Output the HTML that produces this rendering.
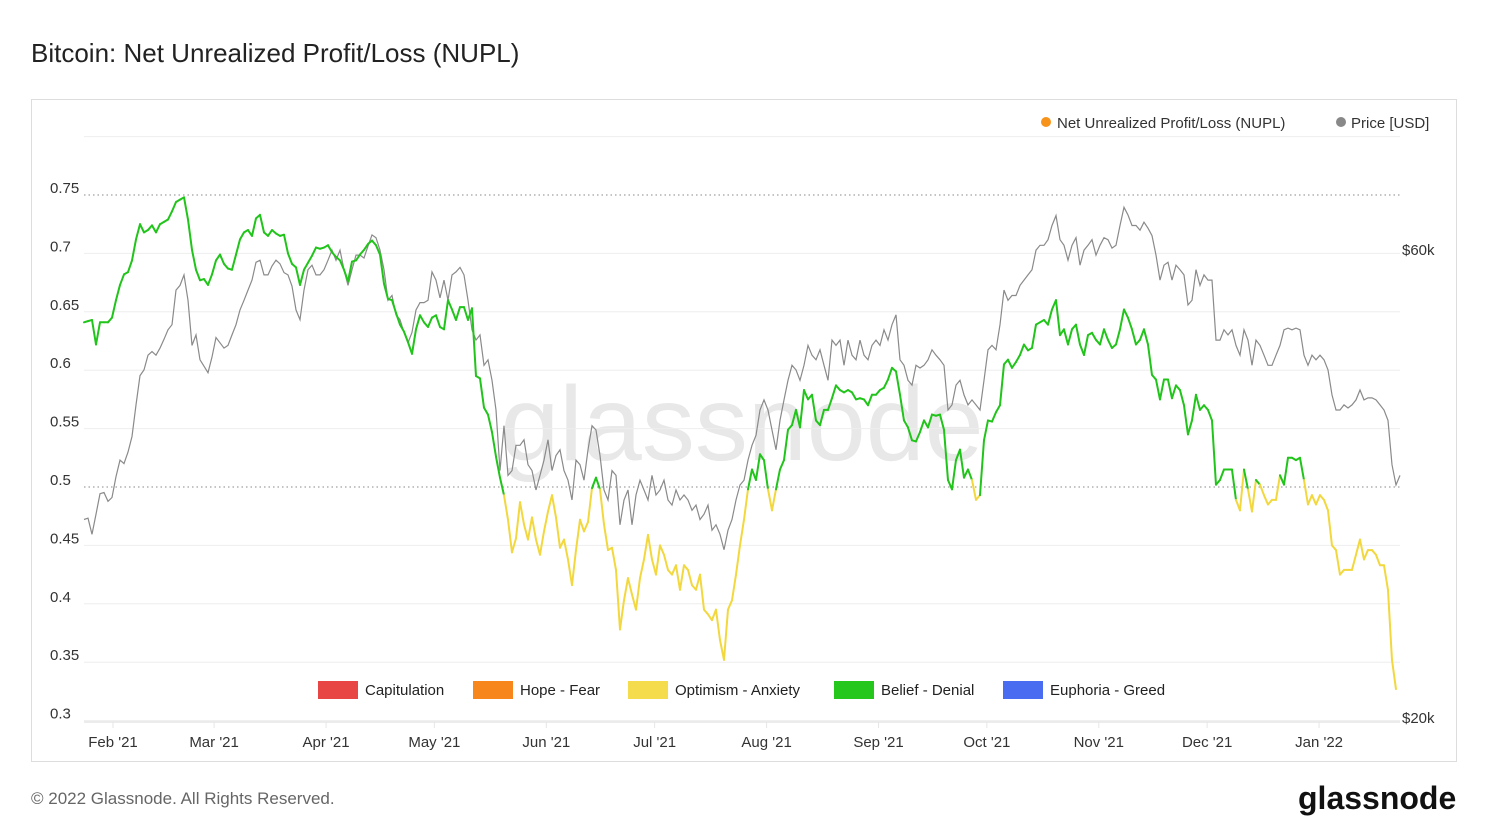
<!DOCTYPE html>
<html><head><meta charset="utf-8"><style>
html,body{margin:0;padding:0;background:#fff;}
body{width:1488px;height:837px;position:relative;overflow:hidden;font-family:"Liberation Sans",sans-serif;}
.title{position:absolute;left:31px;top:38px;font-size:26px;color:#222;}
.box{position:absolute;left:31px;top:99px;width:1424px;height:661px;border:1px solid #ddd;}
.foot{position:absolute;left:31px;top:789px;font-size:17px;color:#666;}
.logo{position:absolute;left:1298px;top:780px;font-size:32px;font-weight:bold;color:#111;}
svg{position:absolute;left:0;top:0;}
</style></head><body>
<div class="title">Bitcoin: Net Unrealized Profit/Loss (NUPL)</div>
<div class="box"></div>
<svg id="chart" width="1488" height="837"></svg>
<div class="foot">© 2022 Glassnode. All Rights Reserved.</div>
<div class="logo">glassnode</div>
<script>
const nuplValues=[.641,.642,.643,.622,.641,.641,.641,.645,.660,.673,.682,.684,.694,.712,.725,.718,.720,.724,.718,.725,.727,.729,.736,.744,.746,.748,.729,.703,.686,.677,.678,.673,.682,.694,.699,.691,.687,.686,.699,.712,.718,.720,.715,.730,.733,.718,.715,.720,.717,.715,.716,.700,.691,.688,.673,.686,.692,.698,.705,.704,.705,.707,.701,.697,.694,.686,.676,.693,.694,.699,.703,.708,.711,.707,.699,.674,.661,.660,.649,.639,.633,.624,.614,.635,.647,.641,.637,.645,.647,.637,.635,.660,.652,.643,.654,.654,.643,.653,.595,.593,.568,.562,.547,.526,.508,.493,.472,.444,.456,.487,.468,.455,.474,.455,.442,.462,.479,.493,.474,.448,.455,.438,.416,.446,.472,.462,.470,.499,.508,.498,.468,.446,.448,.429,.378,.403,.422,.408,.395,.422,.438,.459,.438,.425,.450,.442,.429,.425,.433,.412,.433,.429,.416,.412,.425,.395,.391,.386,.395,.369,.352,.395,.403,.425,.450,.472,.498,.515,.506,.528,.523,.498,.480,.498,.515,.523,.549,.553,.566,.551,.583,.575,.579,.557,.553,.566,.566,.576,.587,.583,.581,.583,.581,.575,.576,.575,.570,.579,.579,.583,.585,.592,.602,.599,.579,.557,.551,.540,.539,.547,.557,.551,.562,.561,.562,.549,.506,.498,.523,.532,.508,.515,.506,.489,.493,.540,.557,.556,.564,.570,.605,.609,.602,.607,.613,.622,.617,.619,.639,.641,.643,.639,.652,.660,.630,.635,.622,.635,.639,.622,.613,.630,.632,.626,.622,.635,.626,.619,.622,.635,.652,.645,.635,.622,.626,.635,.622,.596,.592,.575,.592,.592,.576,.587,.583,.570,.545,.557,.579,.566,.570,.566,.557,.502,.506,.515,.515,.515,.489,.480,.515,.498,.479,.506,.502,.493,.485,.489,.489,.510,.502,.525,.525,.523,.525,.506,.485,.493,.485,.493,.489,.480,.450,.446,.425,.429,.429,.429,.442,.455,.438,.446,.446,.442,.433,.433,.412,.352,.327];
const priceValuesK=[32.1,32.2,31,32.5,34.1,34.2,33.5,33.8,35.5,36.9,36.6,37.6,39,42,45,45.6,47.2,47.6,47.2,48,49,50.1,50.7,55,55.6,57,53.7,48.3,49.5,46.7,46,45.3,47,49.2,48.6,48,48.3,49.5,50.7,52.5,53.7,55,56.3,58.7,59,57,57,58.2,59,58.5,57.3,57,55.5,52.5,51.3,55,57.7,58.3,57,57,57.7,59,60.4,59,60.4,57.7,55.6,57.7,59.7,59.7,59.3,61,62.6,62.2,60.4,57.7,53.7,54.3,51.9,51.3,49.8,48.6,49.8,52.5,53.4,53.4,53.7,57.4,56.3,54,56.3,53.7,57,57.4,58,57,53.7,50.1,48.9,49.5,46.1,46.7,44.5,41.5,36,40,35.6,36,38.2,38.2,38.7,36.5,36,34.4,35.6,36.9,38.7,36,37.3,37.8,36,35.2,33.6,36.9,36.5,35.2,37.8,40,39.6,37.3,34.4,33.6,36,35.6,31.7,33.6,34.4,31.7,34,35.2,34.4,33.6,35.6,34,34.4,35.2,33.6,33.2,34.4,33.6,34,33.6,32.8,33.2,32.1,32.5,33.2,31.3,31.7,31,29.9,31.3,32.1,33.6,34.8,35.2,36.9,38.2,39.1,41.5,42.5,41.5,39.6,37.8,40.5,42.5,44.5,46.1,45.6,44.5,46.1,48.3,47.2,46.7,47.8,46.1,44.5,48.9,48.3,48.9,46.1,48.9,47.2,46.7,48.9,47.2,46.7,48.3,48.9,48.3,50.1,48.9,50.7,51.9,46.7,46.1,44.5,44,46.1,45.8,46.1,46.7,47.8,47.2,46.7,46.1,41.5,42,44,44.5,43,42,42.5,42,41.5,44.5,47.8,48.3,47.8,50.7,55,53.7,54.3,54.3,55.6,56.3,57,57.7,60.4,61.1,61.1,61.9,64,65.5,61.9,61.1,59,61.1,62.2,58.3,60.4,61.1,61.9,59.7,61.1,62.2,61.9,60.7,61.1,64,66.8,65.6,64,64,63.3,64.5,63.6,62.5,59.7,56.3,58.3,58.7,56.3,58.3,57.7,57,53.1,53.7,57.7,55.6,57,56.3,56.3,48.9,48.9,50.1,49.5,50.1,48.3,47.2,50.1,48.9,46.1,48.9,48.3,47.2,46.1,46.1,47.2,48.3,50.1,50.3,50.1,50.3,50.1,47.2,46.1,47.2,46.7,47.2,46.7,45.6,43,41.5,41.5,42,41.7,42,42.5,43.5,42.5,42.7,42.7,42.5,42,41.5,40.5,36.5,34.8,35.6];
const monthLabels=["Feb '21","Mar '21","Apr '21","May '21","Jun '21","Jul '21","Aug '21","Sep '21","Oct '21","Nov '21","Dec '21","Jan '22"];
const monthDays=[0,28,59,89,120,150,181,212,242,273,303,334];
const leftTicks=[0.3,0.35,0.4,0.45,0.5,0.55,0.6,0.65,0.7,0.75];
const rightTicks=[20,60];
const zoneNames=["Capitulation","Hope - Fear","Optimism - Anxiety","Belief - Denial","Euphoria - Greed"];
const zoneColors=["#e84545","#f7861c","#f4dc4c","#25c71c","#4a6cf0"];
const SAMPLE_DAYS=1.1077, START_DAY=-8.03;

const NS="http://www.w3.org/2000/svg";
const svg=document.getElementById('chart');
function el(tag,attrs,parent){const e=document.createElementNS(NS,tag);for(const k in attrs)e.setAttribute(k,attrs[k]);(parent||svg).appendChild(e);return e;}
const xDay=d=>113+d*3.611;
const yL=v=>487-(v-0.5)*1168;
const yR=p=>721-Math.log(p/20)/Math.log(3)*468;

// watermark
let wm=el('text',{x:742,y:460,'text-anchor':'middle','font-size':106,'font-family':'Liberation Sans, sans-serif',fill:'#e8e8e8'});
wm.textContent='glassnode';



// grid
for(let v=0.3;v<=0.801;v+=0.05){
  const y=yL(v);
  const dotted=Math.abs(v-0.75)<1e-6||Math.abs(v-0.5)<1e-6;
  const g=el('line',{x1:84,x2:1400,y1:y,y2:y,stroke:dotted?'#888':'#eeeeee','stroke-width':1,'stroke-dasharray':dotted?'1.5,3':'none'});
  
  
}
leftTicks.forEach(v=>{
  const t=el('text',{x:50,y:yL(v)-2,'font-size':15,fill:'#333'});
  t.textContent=String(v);
  
  
});
rightTicks.forEach(p=>{
  const t=el('text',{x:1402,y:yR(p)+2,'font-size':15,fill:'#333'});
  t.textContent='$'+p+'k';
  
  
});
// x axis
const ax=el('line',{x1:84,x2:1400,y1:722,y2:722,stroke:'#e6e6e6','stroke-width':1.5});


monthLabels.forEach((m,i)=>{
  const x=xDay(monthDays[i]);
  const tk=el('line',{x1:x,x2:x,y1:722,y2:728,stroke:'#e6e6e6'});
  
  
  const t=el('text',{x:x,y:747,'text-anchor':'middle','font-size':15,fill:'#333'});
  t.textContent=m;
  
  
});
const xi=i=>xDay(START_DAY+i*SAMPLE_DAYS);
// price line
const pp=priceValuesK.map((p,i)=>(i?'L':'M')+xi(i).toFixed(1)+','+yR(p).toFixed(1)).join('');
const pl=el('path',{d:pp,fill:'none',stroke:'#8a8a8a','stroke-width':1.2});


// nupl colored segments
for(let i=1;i<nuplValues.length;i++){
  const a=nuplValues[i-1],b=nuplValues[i];
  const c=((a+b)/2>=0.5)?'#21c41a':'#f2d83e';
  const s=el('line',{x1:xi(i-1),y1:yL(a),x2:xi(i),y2:yL(b),stroke:c,'stroke-width':2,'stroke-linecap':'round'});
  
  
}
// top legend
let lg=el('circle',{cx:1046,cy:122,r:5,fill:'#f7931a'});


let lt=el('text',{x:1057,y:128,'font-size':15,fill:'#333'});lt.textContent='Net Unrealized Profit/Loss (NUPL)';


lg=el('circle',{cx:1341,cy:122,r:5,fill:'#888'});


lt=el('text',{x:1351,y:128,'font-size':15,fill:'#333'});lt.textContent='Price [USD]';


// zone legend
const zx=[318,473,628,834,1003];
zoneNames.forEach((n,i)=>{
  const r=el('rect',{x:zx[i],y:681,width:40,height:18,fill:zoneColors[i]});
  
  
  const t=el('text',{x:zx[i]+47,y:695,'font-size':15,fill:'#222'});
  t.textContent=n;
  
  
});
</script>
</body></html>
